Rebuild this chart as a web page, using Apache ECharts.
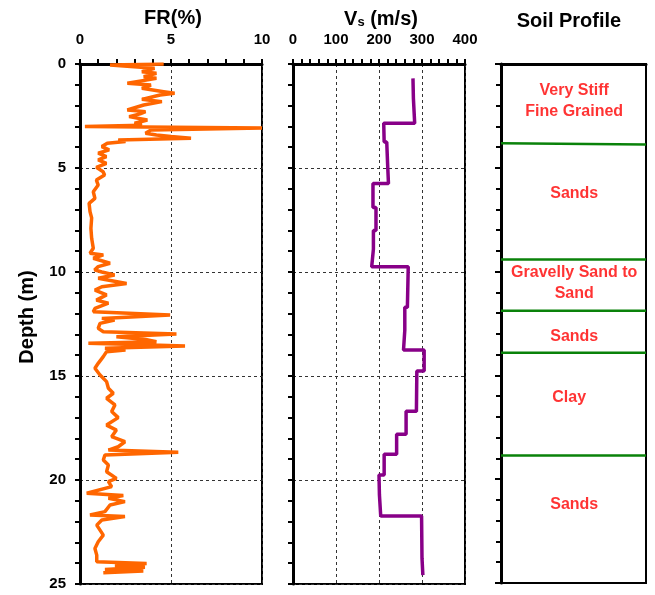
<!DOCTYPE html>
<html>
<head>
<meta charset="utf-8">
<script src="https://cdn.jsdelivr.net/npm/echarts@6/dist/echarts.min.js"></script>
<style>html,body{margin:0;padding:0;background:#fff;}#c{width:655px;height:595px;}</style>
</head>
<body>
<div id="c"></div>
<script>
// ---- data ----
const depthTicks = [0, 5, 10, 15, 20, 25];
const frTicks = [0, 5, 10];
const vsTicks = [0, 100, 200, 300, 400];
// [FR (%), depth (m)]
const frProfile = [
  [4.6,0.0],[1.65,0.05],[4.1,0.21],[3.4,0.37],[4.2,0.45],[3.5,0.61],[4.2,0.69],[2.6,0.93],[3.9,1.01],[3.4,1.17],
  [4.6,1.33],[5.2,1.41],[4.4,1.49],[3.4,1.70],[4.5,1.81],[3.5,1.97],[2.6,2.21],[3.6,2.29],[3.3,2.40],[2.7,2.53],
  [3.7,2.69],[3.0,2.85],[3.4,2.95],[0.27,3.01],[10.0,3.08],[3.9,3.17],[3.6,3.33],[4.2,3.41],[5.0,3.49],[6.1,3.57],
  [2.1,3.65],[2.5,3.73],[1.5,3.81],[1.2,3.97],[1.6,4.13],[1.0,4.29],[1.45,4.45],[1.0,4.61],[1.45,4.78],[0.9,4.97],
  [1.27,5.18],[1.35,5.34],[0.9,5.58],
  [1.0,5.82],[0.73,6.14],[0.82,6.46],[0.5,6.7],[0.55,7.1],[0.64,7.4],[0.6,7.9],[0.64,8.38],[0.73,8.86],[0.55,9.1],
  [1.28,9.18],[0.73,9.34],[1.65,9.58],[1.0,9.74],[0.8,9.9],[1.2,10.0],[1.9,10.14],[1.0,10.3],[2.56,10.55],[1.2,10.71],
  [0.82,10.87],[1.46,11.1],[0.9,11.35],[1.56,11.5],[0.82,11.75],
  [0.73,11.91],[4.95,12.07],[1.2,12.23],[1.9,12.31],[1.1,12.47],[1.0,12.71],[1.28,12.87],[5.3,12.98],[2.0,13.11],
  [3.6,13.24],[4.2,13.35],[0.46,13.43],[3.0,13.48],[5.77,13.56],[1.37,13.67],[2.5,13.75],[1.46,13.83],[1.28,14.07],
  [1.0,14.39],[0.82,14.63],[1.1,14.95],[1.46,15.27],[1.56,15.59],[1.83,15.83],[1.46,16.07],[1.92,16.39],[1.74,16.71],
  [2.1,17.0],[1.46,17.36],[2.0,17.6],[1.74,17.92],
  [2.47,18.16],[2.1,18.4],[1.56,18.56],[5.4,18.67],[1.37,18.8],[1.28,19.04],[1.56,19.28],[1.46,19.6],[2.0,19.92],
  [1.56,20.08],[1.74,20.32],[0.37,20.64],[2.38,20.75],[1.56,20.88],[2.47,21.04],[1.65,21.2],[1.37,21.52],[0.55,21.68],
  [2.47,21.76],[1.2,21.92],[0.92,22.17],[1.28,22.65],[1.0,22.97],[0.82,23.29],[0.92,23.61],[0.92,23.93],[3.66,24.01],
  [1.92,24.12],[3.57,24.2],[1.37,24.3],[3.48,24.38],[1.28,24.46]
];
// [Vs (m/s), depth (m)]
const vsProfile = [
  [279,0.69],[280,1.65],[282,1.65],[283,2.85],[211,2.85],[212,3.75],[218,3.75],[220,4.8],[222,5.75],[186,5.75],
  [186,6.9],[193,6.9],[193,8.0],[187,8.0],[187,8.9],[183,8.9],[183,9.75],[268,9.75],[266,11.7],[260,11.7],
  [260,12.8],[257,12.8],[257,13.75],[305,13.75],[305,14.76],[288,14.76],[287,16.7],[263,16.7],[263,17.8],[241,17.8],
  [241,18.76],[212,18.76],[212,19.76],[200,19.76],[201,20.72],[204,20.72],[204,21.73],[299,21.73],[300,23.76],
  [302,23.76],[302,24.57]
];
const soilNames = ['Very Stiff\nFine Grained', 'Sands', 'Gravelly Sand to\nSand', 'Sands', 'Clay', 'Sands'];
const soilLabelDepth = [1.80, 6.25, 10.55, 13.13, 16.08, 21.2];
// layer boundaries [depth at left, depth at right]
const soilBoundaries = [[3.82, 3.88], [9.42, 9.42], [11.89, 11.89], [13.91, 13.91], [18.86, 18.86]];

// ---- chart ----
const FONT = 'Arial, "Liberation Sans", sans-serif';
const chart = echarts.init(document.getElementById('c'), null, {renderer: 'canvas'});
const grids = [
  {left: 80, top: 64, width: 182, height: 520},
  {left: 293, top: 64, width: 172, height: 520},
  {left: 501, top: 64, width: 145, height: 519}
].map(g => Object.assign({show: true, borderColor: '#000', borderWidth: 2, backgroundColor: 'transparent'}, g));

const dashed = {show: true, lineStyle: {color: '#333', width: 1, type: [3, 3]}};
const tickStyle = {color: '#000', width: 2};
function topAxis(gi, min, max, interval, showTicks) {
  return {
    gridIndex: gi, type: 'value', position: 'top', min: min, max: max, interval: interval,
    axisLine: {show: true, onZero: false, lineStyle: {color: '#000', width: 3}},
    axisTick: {show: showTicks, inside: false, length: 5, lineStyle: tickStyle},
    minorTick: {show: showTicks, splitNumber: 5, length: 5, lineStyle: tickStyle},
    axisLabel: {show: showTicks, margin: 17, color: '#000', fontSize: 15, fontWeight: 'bold', fontFamily: FONT},
    splitLine: showTicks ? dashed : {show: false}
  };
}
function depthAxis(gi, showLabels, showSplit) {
  return {
    gridIndex: gi, type: 'value', inverse: true, min: depthTicks[0], max: depthTicks[depthTicks.length - 1], interval: 5,
    axisLine: {show: true, onZero: false, lineStyle: {color: '#000', width: 3}},
    axisTick: {show: true, inside: false, length: 5, lineStyle: tickStyle},
    minorTick: {show: true, splitNumber: 5, length: 5, lineStyle: tickStyle},
    axisLabel: {show: showLabels, margin: 14, color: '#000', fontSize: 15, fontWeight: 'bold', fontFamily: FONT},
    splitLine: showSplit ? dashed : {show: false}
  };
}

const series = [
  {type: 'line', xAxisIndex: 0, yAxisIndex: 0, data: frProfile, showSymbol: false, symbol: 'none',
   lineStyle: {color: '#ff6600', width: 3.5}, z: 5},
  {type: 'line', xAxisIndex: 1, yAxisIndex: 1, data: vsProfile, showSymbol: false, symbol: 'none',
   lineStyle: {color: '#880088', width: 3.5}, z: 5}
];
soilBoundaries.forEach(b => {
  series.push({type: 'line', xAxisIndex: 2, yAxisIndex: 2, data: [[0, b[0]], [1, b[1]]], showSymbol: false, symbol: 'none',
    lineStyle: {color: '#0a820a', width: 2.5}, z: 4});
});
series.push({
  type: 'scatter', xAxisIndex: 2, yAxisIndex: 2, symbolSize: 1, itemStyle: {color: 'transparent'},
  data: soilNames.map((n, i) => ({name: n, value: [n === 'Clay' ? 0.47 : 0.505, soilLabelDepth[i]]})),
  label: {show: true, position: 'inside', formatter: '{b}', color: '#ff0000', fontSize: 16, fontWeight: 'bold',
    fontFamily: FONT, lineHeight: 21, align: 'center'},
  z: 6
});

chart.setOption({
  animation: false,
  backgroundColor: '#fff',
  grid: grids,
  xAxis: [topAxis(0, frTicks[0], frTicks[frTicks.length - 1], 5, true),
          topAxis(1, vsTicks[0], vsTicks[vsTicks.length - 1], 100, true),
          topAxis(2, 0, 1, 1, false)],
  yAxis: [depthAxis(0, true, true), depthAxis(1, false, true), depthAxis(2, false, false),
    {gridIndex: 2, type: 'value', inverse: true, min: 0, max: 25, interval: 5,
     axisLine: {show: false}, axisTick: {show: true, inside: true, length: 6, lineStyle: tickStyle},
     axisLabel: {show: false}, splitLine: {show: false}}],
  series: series,
  graphic: [
    {type: 'text', x: 173, y: 18, style: {text: 'FR(%)', font: 'bold 20px ' + FONT, fill: '#000',
      align: 'center', verticalAlign: 'middle', textAlign: 'center', textVerticalAlign: 'middle'}},
    {type: 'text', x: 381, y: 18, style: {text: '{a|V}{b|s}{a| (m/s)}', fill: '#000',
      align: 'center', verticalAlign: 'middle', textAlign: 'center', textVerticalAlign: 'middle',
      rich: {a: {fontSize: 20, fontWeight: 'bold', fontFamily: FONT, verticalAlign: 'bottom', lineHeight: 22},
             b: {fontSize: 13, fontWeight: 'bold', fontFamily: FONT, verticalAlign: 'bottom', lineHeight: 16}}}},
    {type: 'text', x: 569, y: 21, style: {text: 'Soil Profile', font: 'bold 20px ' + FONT, fill: '#000',
      align: 'center', verticalAlign: 'middle', textAlign: 'center', textVerticalAlign: 'middle'}},
    {type: 'text', x: 27, y: 317, rotation: Math.PI / 2, style: {text: 'Depth (m)', font: 'bold 20px ' + FONT, fill: '#000',
      align: 'center', verticalAlign: 'middle', textAlign: 'center', textVerticalAlign: 'middle'}}
  ]
});
</script>
</body>
</html>
